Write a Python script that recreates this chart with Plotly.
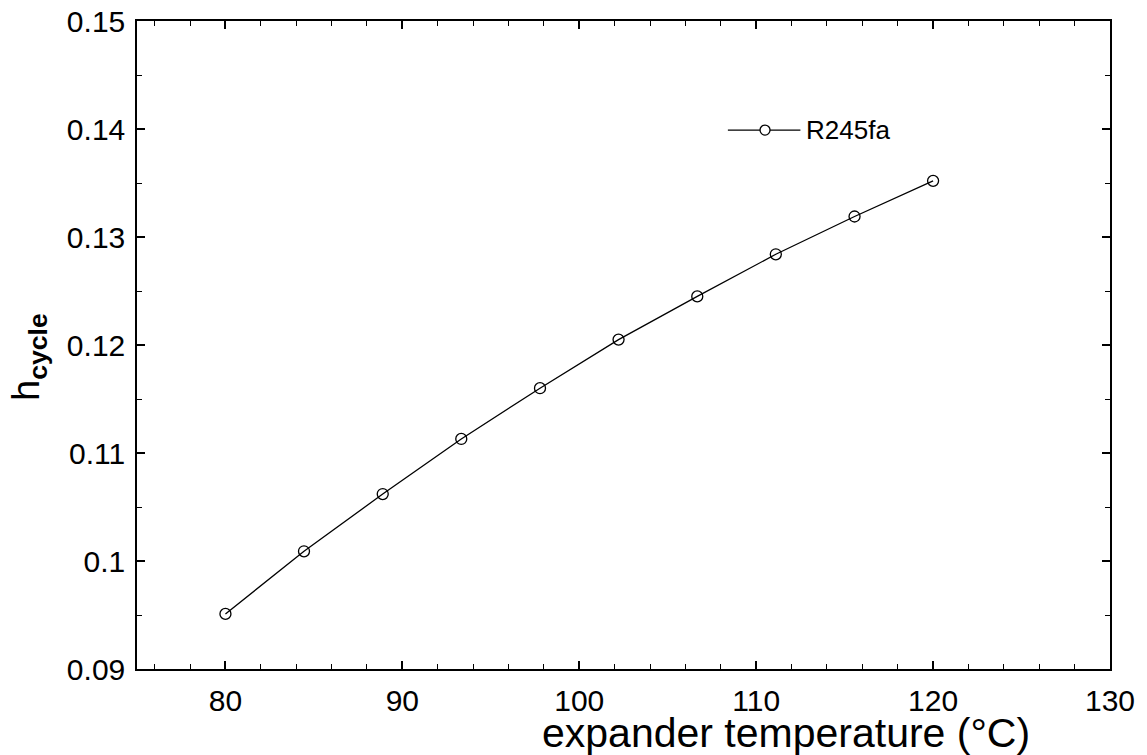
import plotly.graph_objects as go

# expander temperature (°C) and cycle efficiency for R245fa
temp_c = [80.0, 84.44, 88.89, 93.33, 97.78, 102.22, 106.67, 111.11, 115.56, 120.0]
eta_cycle = [0.0951, 0.1009, 0.1062, 0.1113, 0.1160, 0.1205, 0.1245, 0.1284, 0.1319, 0.1352]
series_name = "R245fa"

x_ticks = [80, 90, 100, 110, 120, 130]
y_ticks = [0.09, 0.10, 0.11, 0.12, 0.13, 0.14, 0.15]
y_tick_text = ["0.09", "0.1", "0.11", "0.12", "0.13", "0.14", "0.15"]

font_fam = "Liberation Sans, Arial, sans-serif"

W, H = 1147, 755
L, R, T, B = 137, 37, 21, 86
pw = W - L - R
ph = H - T - B

fig = go.Figure()
fig.add_trace(go.Scatter(
    x=temp_c, y=eta_cycle, mode="lines+markers", name=series_name,
    line=dict(color="black", width=1.3),
    marker=dict(symbol="circle-open", size=11, color="black", line=dict(width=1.3)),
    showlegend=False))

# hand-made legend entry (line + open circle + label)
fig.add_shape(type="line", xref="x", yref="y", x0=108.4, x1=112.5, y0=0.1399, y1=0.1399,
              line=dict(color="black", width=1.3))
fig.add_shape(type="circle", xref="x", yref="y", xsizemode="pixel", ysizemode="pixel",
              xanchor=110.5, yanchor=0.1399, x0=-5, x1=5, y0=-5, y1=5,
              line=dict(color="black", width=1.3), fillcolor="white")
fig.add_annotation(x=112.7, y=0.1399, xref="x", yref="y", text=series_name, showarrow=False,
                   xanchor="left", yanchor="middle", font=dict(size=26, family=font_fam, color="black"))

axis_common = dict(showline=True, linecolor="black", linewidth=1.5, mirror="ticks",
                   ticks="inside", ticklen=8, tickwidth=1.5, tickcolor="black",
                   showgrid=False, zeroline=False, automargin=False, ticklabeloverflow="allow",
                   tickfont=dict(size=30, family=font_fam, color="black"))

fig.update_xaxes(range=[75, 130], tickvals=x_ticks, ticklabelstandoff=4,
                 minor=dict(dtick=2, ticks="inside", ticklen=5, tickwidth=1.2, tickcolor="black"),
                 **axis_common)
fig.update_yaxes(range=[0.09, 0.15], tickvals=y_ticks, ticktext=y_tick_text, ticklabelstandoff=4,
                 minor=dict(dtick=0.005, ticks="inside", ticklen=5, tickwidth=1.2, tickcolor="black"),
                 **axis_common)

# titles placed in window pixels
def px_x(p):
    return (p - L) / pw

def px_y(p):
    return (H - B - p) / ph

fig.add_annotation(x=px_x(786), y=px_y(733), xref="paper", yref="paper",
                   xanchor="center", yanchor="middle", text="expander temperature (°C)",
                   showarrow=False, font=dict(size=41, family=font_fam, color="black"))
fig.add_annotation(x=px_x(29), y=px_y(357), xref="paper", yref="paper",
                   xanchor="center", yanchor="middle", text="h<sub><b>cycle</b></sub>",
                   showarrow=False, textangle=-90, font=dict(size=38, family=font_fam, color="black"))

fig.update_layout(width=W, height=H, plot_bgcolor="white", paper_bgcolor="white",
                  margin=dict(l=L, r=R, t=T, b=B))

# drop the default page margin so the figure fills the window exactly
fig.write_html("out.html", config={"displayModeBar": False},
               post_script="document.body.style.margin='0';")
